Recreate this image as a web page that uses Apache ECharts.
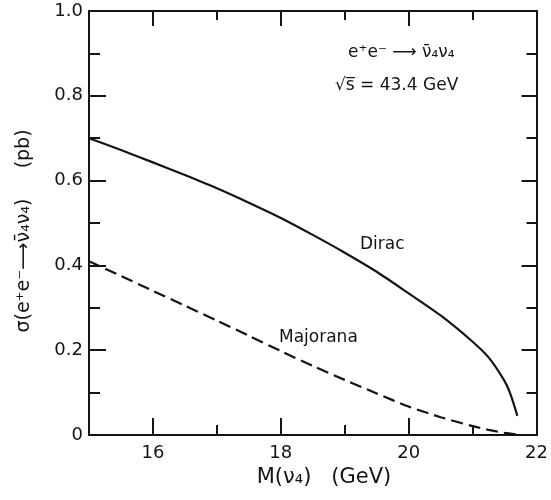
<!DOCTYPE html>
<html>
<head>
<meta charset="utf-8">
<script src="https://cdn.jsdelivr.net/npm/echarts@6/dist/echarts.min.js"></script>
<style>html,body{margin:0;padding:0;background:#fff;}#c{width:551px;height:500px;}</style>
</head>
<body>
<div id="c"></div>
<script>
// Data
const massDirac = [15, 15.5, 16, 16.5, 17, 17.5, 18, 18.5, 19, 19.5, 20, 20.5, 21, 21.25, 21.5, 21.6, 21.7];
const sigmaDirac = [0.700, 0.672, 0.643, 0.613, 0.582, 0.548, 0.512, 0.472, 0.430, 0.385, 0.334, 0.282, 0.220, 0.183, 0.127, 0.093, 0.045];
const massMajorana = [15, 15.5, 16, 16.5, 17, 17.5, 18, 18.5, 19, 19.5, 20, 20.5, 21, 21.25, 21.5, 21.75];
const sigmaMajorana = [0.410, 0.375, 0.340, 0.305, 0.270, 0.234, 0.198, 0.163, 0.130, 0.098, 0.067, 0.042, 0.021, 0.012, 0.005, 0.0];
const xLabelValues = [16, 18, 20, 22];
const xMajorTicks = [16, 18, 20];
const xMinorTicks = [17, 19, 21];
const yLabelValues = [0, 0.2, 0.4, 0.6, 0.8, 1.0];
const yMajorTicks = [0.2, 0.4, 0.6, 0.8];
const yMinorTicks = [0.1, 0.3, 0.5, 0.7, 0.9];

const FONT = 'DejaVu Sans';
const INK = '#141414';

function zip(a, b) { return a.map((v, i) => [v, b[i]]); }

function xAx(pos, ticks, len, showLine, labels) {
  return {
    type: 'value', min: 15, max: 22, position: pos,
    axisLine: { show: showLine, onZero: false, lineStyle: { color: INK, width: 2 } },
    axisTick: { show: true, inside: true, length: len, customValues: ticks, lineStyle: { color: INK, width: 2 } },
    axisLabel: labels ? { show: true, customValues: labels, fontSize: 18, fontFamily: FONT, color: INK, margin: 9 } : { show: false },
    splitLine: { show: false }
  };
}
function yAx(pos, ticks, len, showLine, labels) {
  return {
    type: 'value', min: 0, max: 1, position: pos,
    axisLine: { show: showLine, onZero: false, lineStyle: { color: INK, width: 2 } },
    axisTick: { show: true, inside: true, length: len, customValues: ticks, lineStyle: { color: INK, width: 2 } },
    axisLabel: labels ? {
      show: true, customValues: labels, fontSize: 18, fontFamily: FONT, color: INK, margin: 6,
      formatter: v => (v === 0 ? '0' : Number(v).toFixed(1))
    } : { show: false },
    splitLine: { show: false }
  };
}

const chart = echarts.init(document.getElementById('c'), null, { renderer: 'canvas' });
chart.setOption({
  backgroundColor: '#fff',
  animation: false,
  grid: { left: 89, right: 9, top: 11, bottom: 65, containLabel: false },
  xAxis: [
    xAx('bottom', xMajorTicks, 17, true, xLabelValues),
    xAx('bottom', xMinorTicks, 10, false, null),
    xAx('top', xMajorTicks, 15, true, null),
    xAx('top', xMinorTicks, 9, false, null)
  ],
  yAxis: [
    yAx('left', yMajorTicks, 17, true, yLabelValues),
    yAx('left', yMinorTicks, 11, false, null),
    yAx('right', yMajorTicks, 15, true, null),
    yAx('right', yMinorTicks, 10, false, null)
  ],
  series: [
    {
      name: 'Dirac', type: 'line', xAxisIndex: 0, yAxisIndex: 0,
      data: zip(massDirac, sigmaDirac), showSymbol: false, smooth: 0.25,
      lineStyle: { color: INK, width: 2.2 }
    },
    {
      name: 'Majorana', type: 'line', xAxisIndex: 0, yAxisIndex: 0,
      data: zip(massMajorana, sigmaMajorana), showSymbol: false, smooth: 0.25,
      lineStyle: { color: INK, width: 2.2, type: [12, 6] }
    }
  ],
  graphic: [
    { type: 'text', left: 348, top: 44, style: { text: 'e\u207Ae\u207B \u27F6 \u03BD\u0304\u2084\u03BD\u2084', font: '17px "DejaVu Sans"', fill: INK } },
    { type: 'text', left: 335, top: 77, style: { text: '\u221As\u0305 = 43.4 GeV', font: '17px "DejaVu Sans"', fill: INK } },
    { type: 'text', left: 360, top: 236, style: { text: 'Dirac', font: '17px "DejaVu Sans"', fill: INK } },
    { type: 'text', left: 279, top: 329, style: { text: 'Majorana', font: '17px "DejaVu Sans"', fill: INK } },
    { type: 'text', x: 324, y: 478, style: { text: 'M(\u03BD\u2084)   (GeV)', font: '21px "DejaVu Sans"', fill: INK, align: 'center', verticalAlign: 'middle' } },
    { type: 'text', x: 24, y: 231, rotation: Math.PI / 2, style: { text: '\u03C3(e\u207Ae\u207B\u27F6\u03BD\u0304\u2084\u03BD\u2084)     (pb)', font: '19px "DejaVu Sans"', fill: INK, align: 'center', verticalAlign: 'middle' } }
  ]
});
</script>
</body>
</html>
